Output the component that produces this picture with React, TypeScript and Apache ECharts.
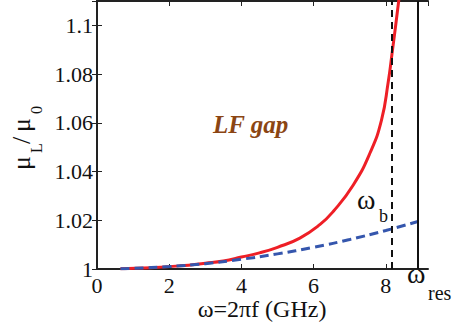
import React, { useEffect, useRef } from "react";
import * as echarts from "echarts";

// omega (GHz) and mu_L/mu_0 readings
const redOmega = [0.65, 1.5, 2.3, 3.0, 3.5, 4.0, 4.5, 5.0, 5.62, 6.18, 6.55, 7.1, 7.56, 7.88, 8.07, 8.17, 8.3, 8.4];
const redMu = [1.0001, 1.0005, 1.0013, 1.0024, 1.0033, 1.0049, 1.0066, 1.0089, 1.0127, 1.0183, 1.0237, 1.0345, 1.0475, 1.061, 1.077, 1.088, 1.103, 1.115];

const blueOmega = [0.65, 1, 2, 3, 4, 5, 6, 7, 8, 8.89];
const blueMu = [1.0001, 1.00025, 1.001, 1.0022, 1.004, 1.0062, 1.0089, 1.0121, 1.0158, 1.0195];

const omegaB = 8.16;
const omegaRes = 8.89;

const F = "Liberation Serif, DejaVu Serif";

function App() {
  const ref = useRef<HTMLDivElement>(null);
  useEffect(() => {
    if (!ref.current) return;
    const chart = echarts.init(ref.current, null, { renderer: "svg" });
    const t = (text: string, x: number, y: number, size: number, extra: any = {}) => {
      const style: any = { text, fontFamily: F, fontSize: size, fill: extra.fill || "#111" };
      if (extra.weight) style.fontWeight = extra.weight;
      if (extra.italic) style.fontStyle = "italic";
      if (extra.align) style.align = extra.align;
      style.verticalAlign = "middle";
      return { type: "text", x, y, style };
    };
    const opt: any = {
      animation: false,
      grid: { left: 97, right: 27, top: 1, bottom: 60 },
      xAxis: [
        {
          type: "value", min: 0, max: 9.17, interval: 2,
          axisLine: { lineStyle: { color: "#222", width: 2 } },
          axisTick: { inside: true, length: 5, lineStyle: { color: "#222" } },
          splitLine: { show: false },
          axisLabel: { fontFamily: F, fontSize: 22, color: "#111", margin: 5, showMaxLabel: false },
        },
        {
          type: "value", min: 0, max: 9.17, interval: 2, position: "top",
          axisLine: { lineStyle: { color: "#222", width: 2 } },
          axisTick: { inside: true, length: 5, lineStyle: { color: "#222" } },
          splitLine: { show: false },
          axisLabel: { show: false },
        },
      ],
      yAxis: [
        {
          type: "value", min: 1, max: 1.11, interval: 0.02,
          axisLine: { show: true, lineStyle: { color: "#222", width: 2 } },
          axisTick: { show: true, inside: true, length: 5, lineStyle: { color: "#222" } },
          splitLine: { show: false },
          axisLabel: { fontFamily: F, fontSize: 22, color: "#111", margin: 4, showMaxLabel: false },
        },
        {
          type: "value", min: 1, max: 1.11, interval: 0.02, position: "right",
          axisLine: { show: true, lineStyle: { color: "#222", width: 2 } },
          axisTick: { show: true, inside: true, length: 5, lineStyle: { color: "#222" } },
          splitLine: { show: false },
          axisLabel: { show: false },
        },
      ],
      series: [
        {
          type: "line",
          data: redOmega.map((w, i) => [w, redMu[i]]),
          symbol: "none",
          smooth: 0.5,
          lineStyle: { color: "#ee1f26", width: 3 },
          markLine: {
            symbol: "none",
            label: { show: false },
            data: [
              { xAxis: omegaB, lineStyle: { color: "#111", width: 2, type: [7, 5] } },
              { xAxis: omegaRes, lineStyle: { color: "#111", width: 2, type: "solid" } },
            ],
          },
        },
        {
          type: "line",
          data: blueOmega.map((w, i) => [w, blueMu[i]]),
          symbol: "none",
          smooth: 0.5,
          lineStyle: { color: "#3556ad", width: 3, type: [9, 5] },
        },
      ],
      graphic: [
        t("ω=2πf (GHz)", 262, 309, 24, { align: "center" }),
        t("ω", 357, 199.5, 28),
        t("b", 379, 216, 18),
        t("ω", 407, 273.5, 28),
        t("res", 428, 293, 20),
        {
          type: "group",
          x: 30,
          y: 170,
          rotation: Math.PI / 2,
          children: [
            t("μ", 0, -8.8, 26),
            t("L", 17, 6.6, 16),
            t("/", 26, -8.8, 26),
            t("μ", 38, -8.8, 26),
            t("0", 56, 6.6, 16),
          ],
        },
        t("LF gap", 213, 124.6, 25, { weight: "bold", italic: true, fill: "#8B4513" }),
      ],
    };
    chart.setOption(opt);
    return () => chart.dispose();
  }, []);
  return <div ref={ref} style={{ position: "absolute", left: 0, top: 0, width: 455, height: 329 }} />;
}

export default App;
